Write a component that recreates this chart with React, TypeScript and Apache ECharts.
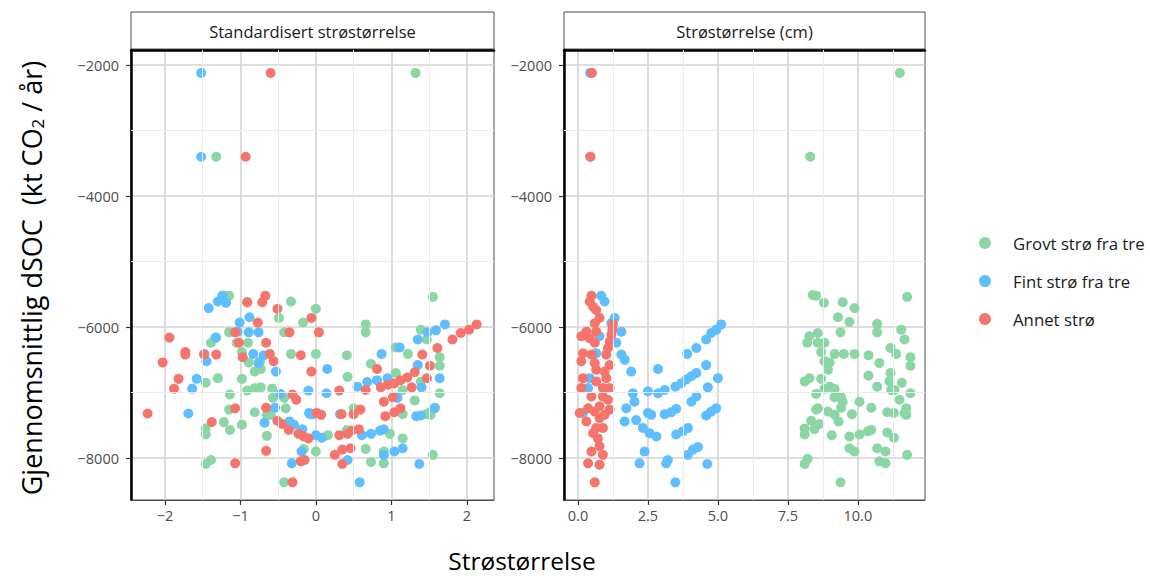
import React, { useEffect, useRef } from "react";
import * as echarts from "echarts";

const FONT = "'Open Sans', 'Noto Sans', sans-serif";

const SERIES_NAMES = ["Grovt strø fra tre", "Fint strø fra tre", "Annet strø"];
const COLORS = ["#8AD6A4", "#5EBEFF", "#F5756C"];
const STRIP_LABELS = ["Standardisert strøstørrelse", "Strøstørrelse (cm)"];

const xTicksStd = [-2, -1, 0, 1, 2];
const xTicksCm = [0, 2.5, 5, 7.5, 10];
const yTicks = [-8000, -6000, -4000, -2000];
const xMinorStd = [-1.5, -0.5, 0.5, 1.5];
const xMinorCm = [1.25, 3.75, 6.25, 8.75, 11.25];
const yMinor = [-7000, -5000, -3000];

// Standardised litter size panel
const stdGreen = [
  [1.32, -2120], [-1.32, -3400],
  [-1.22, -5520], [-1.15, -5520], [-0.91, -5620], [-0.49, -5860], [-0.33, -5610], [0.0, -5720],
  [-0.17, -5930], [-0.42, -6080], [0.66, -5960], [0.66, -6080], [1.55, -5540], [1.39, -6040],
  [1.47, -6190], [-1.32, -6160], [-1.39, -6240], [-1.15, -6080], [-1.05, -6240], [-0.9, -6240],
  [-0.98, -6380], [-0.89, -6540], [-0.74, -6520], [-0.73, -6640], [-0.81, -6680], [-0.33, -6410],
  [0.0, -6410], [0.41, -6430], [0.73, -6560], [1.06, -6310], [1.22, -6410], [1.64, -6460],
  [1.64, -6590], [-1.3, -6780], [-1.46, -6850], [-0.98, -6790], [0.42, -6760], [-0.91, -6970],
  [-0.81, -6930], [-0.73, -6920], [-0.58, -6940], [-0.57, -7080], [-1.14, -7030], [-1.15, -7260],
  [-0.42, -7080], [-0.4, -7240], [-0.65, -7340], [-0.6, -7340], [-0.81, -7300], [1.06, -6700],
  [1.15, -6960], [1.39, -6830], [1.64, -7010], [1.31, -7120], [0.5, -7240], [1.46, -7330],
  [1.51, -7300], [1.58, -7230], [1.52, -7340], [1.15, -7330], [-0.08, -7330], [-1.22, -7450],
  [-1.14, -7570], [-0.98, -7490], [-1.46, -7550], [-1.46, -7640], [-0.65, -7660], [0.16, -7650],
  [0.41, -7570], [0.98, -7630], [1.15, -7700], [-1.46, -8090], [-1.39, -8030], [-0.16, -7860],
  [0.0, -7900], [0.66, -7860], [0.9, -7900], [0.73, -8060], [0.9, -8080], [1.55, -7950],
  [-0.42, -8370],
];
const stdBlue = [
  [-1.52, -2120], [-1.52, -3400],
  [-1.42, -5710], [-1.3, -5610], [-1.24, -5520], [-1.19, -5630], [-1.01, -5930], [-0.88, -5850],
  [-0.89, -6080], [-0.76, -6080], [-1.04, -6070], [-1.33, -6160], [-1.48, -6410], [-1.45, -6520],
  [-0.83, -6410], [-0.69, -6430], [-0.76, -6550], [-1.58, -6790], [-1.64, -6940], [-1.69, -7320],
  [-0.53, -6680], [0.15, -6640], [0.87, -6410], [1.11, -6310], [1.35, -6190], [1.48, -6080],
  [1.59, -6050], [1.71, -5960], [1.35, -6580], [1.64, -6780], [1.4, -6920], [1.08, -7080],
  [-0.1, -6970], [0.14, -7010], [-0.47, -7020], [0.55, -6910], [0.68, -6840], [0.81, -6810],
  [0.95, -6780], [-0.54, -7230], [-0.68, -7460], [-0.35, -7440], [-0.29, -7490], [-0.18, -7560],
  [-0.09, -7310], [-0.04, -7330], [0.32, -7330], [0.0, -7650], [0.08, -7690], [0.61, -7650],
  [0.73, -7630], [0.85, -7580], [0.9, -7560], [-0.19, -7900], [-0.32, -8080], [0.42, -8030],
  [1.04, -7900], [1.15, -7850], [0.9, -7950], [1.37, -8090], [0.58, -8370], [1.33, -7360],
  [1.39, -7350], [1.57, -7240],
];
const stdRed = [
  [-0.6, -2120], [-0.93, -3400],
  [-2.23, -7320], [-2.03, -6540], [-1.94, -6160], [-1.82, -6790], [-1.88, -6940], [-1.73, -6380],
  [-1.73, -6420], [-1.48, -6420], [-1.32, -6420], [-1.38, -7450], [-1.07, -8080], [-0.91, -5620],
  [-0.71, -5620], [-0.67, -5520], [-0.51, -5720], [-0.77, -5930], [-1.07, -6080], [-1.02, -6240],
  [-0.97, -6460], [-0.66, -6240], [-0.61, -6410], [-0.56, -6520], [-0.35, -6080], [-0.06, -5860],
  [0.04, -6080], [-0.2, -6430], [-0.06, -6680], [-1.07, -7240], [-0.66, -7230], [-0.66, -7890],
  [-0.51, -7430], [-0.45, -7480], [-0.36, -7570], [-0.31, -7030], [-0.26, -7110], [-0.23, -7630],
  [-0.16, -7670], [-0.1, -7700], [-0.2, -8050], [-0.15, -8030], [-0.31, -8370], [0.01, -7310],
  [0.07, -7340], [0.31, -6970], [0.34, -7330], [0.25, -7950], [0.35, -8090], [0.31, -7650],
  [0.42, -7630], [0.48, -7580], [0.57, -7560], [0.35, -7870], [0.46, -7850], [0.5, -7330],
  [0.59, -7260], [0.66, -6960], [0.86, -6920], [0.95, -6880], [1.04, -6860], [1.12, -6810],
  [1.21, -6770], [1.31, -6690], [0.81, -6640], [0.9, -7140], [1.02, -7070], [0.92, -7360],
  [1.04, -7300], [1.12, -7240], [1.27, -6920], [1.47, -6780], [1.51, -6590], [1.41, -6420],
  [1.61, -6320], [1.81, -6190], [1.92, -6090], [2.03, -6040], [2.13, -5960],
];

// Litter size in cm panel
const cmGreen = [
  [11.5, -2120], [8.3, -3400],
  [8.39, -5510], [8.51, -5520], [8.79, -5630], [9.46, -5620], [9.88, -5710], [9.29, -5850],
  [9.7, -5920], [11.76, -5540], [9.38, -6080], [10.69, -5950], [10.69, -6080], [11.55, -6040],
  [11.67, -6190], [8.27, -6140], [8.57, -6090], [8.19, -6240], [8.57, -6240], [8.81, -6240],
  [8.69, -6380], [9.17, -6410], [9.5, -6410], [9.88, -6410], [10.38, -6430], [10.77, -6550],
  [11.17, -6320], [11.37, -6410], [11.88, -6460], [11.88, -6590], [8.81, -6520], [8.99, -6540],
  [8.93, -6650], [8.69, -6790], [8.1, -6830], [8.27, -6780], [10.38, -6740], [10.69, -6910],
  [11.17, -6700], [11.13, -6830], [11.19, -6960], [11.31, -6960], [11.57, -6850], [11.88, -7010],
  [8.51, -7020], [8.81, -6940], [8.99, -6910], [9.17, -6940], [9.17, -7070], [9.4, -7070],
  [9.46, -7140], [9.4, -7230], [10.06, -7140], [10.48, -7230], [9.79, -7330], [8.57, -7240],
  [8.51, -7260], [8.93, -7290], [9.17, -7340], [9.31, -7440], [11.49, -7110], [11.73, -7240],
  [11.73, -7340], [11.67, -7310], [11.05, -7300], [11.29, -7310], [8.33, -7430], [8.63, -7480],
  [8.45, -7560], [8.1, -7550], [8.1, -7640], [9.07, -7650], [9.7, -7670], [10.06, -7640],
  [10.36, -7590], [10.48, -7570], [11.05, -7610], [11.29, -7690], [9.7, -7850], [9.88, -7900],
  [10.69, -7850], [10.99, -7900], [10.77, -8050], [10.99, -8080], [11.76, -7950], [8.1, -8090],
  [8.21, -8010], [9.38, -8370],
];
const cmBlue = [
  [0.43, -2120], [0.43, -3400],
  [0.83, -5520], [0.95, -5610], [1.31, -5860], [1.19, -5940], [1.55, -6070], [1.37, -6240],
  [1.55, -6420], [1.67, -6500], [1.9, -6680], [2.86, -6640], [0.42, -6780], [0.36, -6930],
  [1.96, -7010], [2.5, -6980], [2.86, -7010], [2.02, -7140], [1.73, -7240], [1.67, -7440],
  [2.08, -7420], [2.32, -7540], [2.5, -7310], [2.62, -7340], [2.56, -7620], [2.8, -7670],
  [2.38, -7900], [2.2, -8080], [0.18, -7310], [0.77, -6140], [0.65, -6400],
  [5.12, -5960], [4.94, -6040], [4.76, -6090], [4.58, -6190], [4.23, -6320], [3.9, -6410],
  [4.58, -6580], [5.0, -6780], [4.64, -6920], [4.23, -6700], [4.05, -6750], [3.87, -6800],
  [3.69, -6860], [3.48, -6910], [3.1, -6960], [4.23, -7060], [4.05, -7140], [4.94, -7240],
  [4.76, -7290], [4.58, -7350], [3.51, -7250], [3.33, -7300], [3.1, -7330], [3.93, -7540],
  [3.75, -7590], [3.51, -7640], [4.29, -7830], [4.11, -7870], [3.93, -7950], [3.21, -8030],
  [3.15, -8080], [4.62, -8090], [3.48, -8370],
];
const cmRed = [
  [0.5, -2120], [0.45, -3400],
  [0.48, -5520], [0.42, -5610], [0.54, -5690], [0.65, -5740], [0.77, -5860], [0.6, -5940],
  [1.25, -5960], [1.23, -6040], [0.3, -6070], [0.65, -6070], [0.12, -6140], [0.42, -6170],
  [0.6, -6240], [1.19, -6120], [1.13, -6220], [1.07, -6320], [1.01, -6420], [0.18, -6400],
  [0.48, -6420], [0.12, -6520], [0.6, -6550], [1.13, -6580], [0.95, -6680], [0.65, -6650],
  [0.18, -6780], [1.01, -6780], [0.65, -6830], [0.12, -6930], [0.89, -6930], [1.13, -6930],
  [0.48, -7060], [0.89, -7060], [1.07, -7110], [0.36, -7240], [0.77, -7210], [1.13, -7260],
  [0.06, -7310], [0.6, -7290], [0.95, -7340], [0.3, -7440], [0.77, -7390], [0.65, -7540],
  [0.89, -7540], [0.54, -7620], [0.71, -7700], [0.77, -7820], [0.48, -7900], [0.89, -7950],
  [0.36, -8080], [0.77, -8100], [0.6, -8370],
];

const stdSets = [stdGreen, stdBlue, stdRed];
const cmSets = [cmGreen, cmBlue, cmRed];

const GRIDS = [
  { left: 131, top: 50, width: 363, height: 450 },
  { left: 564, top: 50, width: 361, height: 450 },
];

const minus = (s: string) => s.replace("-", "\u2212");

function xAxisCfg(gridIndex: number, min: number, max: number, interval: number, ticks: number[], fmt: (v: number) => string) {
  return {
    type: "value",
    gridIndex,
    min,
    max,
    interval,
    position: "bottom",
    axisLine: { show: true, onZero: false, lineStyle: { color: "#4d4d4d", width: 1 } },
    axisTick: { show: true, length: 5, customValues: ticks, lineStyle: { color: "#333", width: 1.2 } },
    axisLabel: {
      customValues: ticks,
      color: "#4d4d4d",
      fontSize: 14.5,
      fontFamily: FONT,
      margin: 8,
      formatter: (v: number) => (ticks.some((t) => Math.abs(t - v) < 1e-6) ? fmt(v) : ""),
    },
    splitLine: { show: true, lineStyle: { color: "#d3d3d3", width: 1.6 } },
  };
}

function topAxisCfg(gridIndex: number, min: number, max: number) {
  return {
    type: "value",
    gridIndex,
    min,
    max,
    position: "top",
    axisLine: { show: true, onZero: false, lineStyle: { color: "#000", width: 2.5 } },
    axisTick: { show: false },
    axisLabel: { show: false },
    splitLine: { show: false },
  };
}

function yAxisCfg(gridIndex: number) {
  return {
    type: "value",
    gridIndex,
    min: -8640,
    max: -1770,
    interval: 2000,
    axisLine: { show: true, onZero: false, lineStyle: { color: "#000", width: 2.5 } },
    axisTick: { show: true, length: 5, customValues: yTicks, lineStyle: { color: "#333", width: 1.2 } },
    axisLabel: {
      customValues: yTicks,
      color: "#4d4d4d",
      fontSize: 14.5,
      fontFamily: FONT,
      margin: 12,
      formatter: (v: number) => (yTicks.includes(v) ? minus(String(v)) : ""),
    },
    splitLine: { show: true, lineStyle: { color: "#d3d3d3", width: 1.6 } },
  };
}

function minorSeries(xAxisIndex: number, yAxisIndex: number, xs: number[]) {
  return {
    type: "scatter",
    xAxisIndex,
    yAxisIndex,
    data: [],
    silent: true,
    z: 1,
    markLine: {
      silent: true,
      symbol: "none",
      animation: false,
      label: { show: false },
      lineStyle: { color: "#ececec", width: 1, type: "solid" },
      emphasis: { disabled: true },
      data: [...xs.map((x) => ({ xAxis: x })), ...yMinor.map((y) => ({ yAxis: y }))],
    },
  };
}

export default function App() {
  const ref = useRef<HTMLDivElement>(null);
  useEffect(() => {
    if (!ref.current) return;
    const chart = echarts.init(ref.current, undefined, { renderer: "svg" });
    const pointSeries: any[] = [];
    [stdSets, cmSets].forEach((sets, p) => {
      sets.forEach((data, i) => {
        pointSeries.push({
          type: "scatter",
          name: SERIES_NAMES[i],
          xAxisIndex: p,
          yAxisIndex: p,
          data,
          symbolSize: 10,
          itemStyle: { color: COLORS[i], opacity: 1 },
          emphasis: { disabled: true },
          z: 3,
        });
      });
    });

    const graphics: any[] = [];
    GRIDS.forEach((g, i) => {
      graphics.push({
        type: "rect",
        shape: { x: g.left, y: 12, width: g.width, height: 37 },
        style: { fill: "#fff", stroke: "#4d4d4d", lineWidth: 1 },
        silent: true,
      });
      graphics.push({
        type: "text",
        x: g.left + g.width / 2,
        y: 31,
        style: {
          text: STRIP_LABELS[i],
          fill: "#1a1a1a",
          fontSize: 16.5,
          fontFamily: FONT,
          align: "center",
          verticalAlign: "middle",
        },
        silent: true,
      });
    });
    graphics.push({
      type: "text",
      x: 31,
      y: 278,
      rotation: Math.PI / 2,
      style: {
        text: "Gjennomsnittlig dSOC  (kt CO{sub|2} / år)",
        rich: { sub: { fontSize: 17, fontFamily: FONT, fill: "#000", padding: [13, 0, 0, 0] } },
        fill: "#000",
        fontSize: 27,
        fontFamily: FONT,
        align: "center",
        verticalAlign: "middle",
      },
      silent: true,
    });
    graphics.push({
      type: "text",
      x: 522,
      y: 560,
      style: {
        text: "Strøstørrelse",
        fill: "#000",
        fontSize: 24.5,
        fontFamily: FONT,
        align: "center",
        verticalAlign: "middle",
      },
      silent: true,
    });

    chart.setOption({
      animation: false,
      backgroundColor: "#fff",
      grid: GRIDS.map((g) => ({ ...g, show: true, borderColor: "#4d4d4d", borderWidth: 1, backgroundColor: "#fff" })),
      xAxis: [
        xAxisCfg(0, -2.45, 2.36, 1, xTicksStd, (v) => minus(String(v))),
        xAxisCfg(1, -0.5, 12.4, 2.5, xTicksCm, (v) => v.toFixed(1)),
        topAxisCfg(0, -2.45, 2.36),
        topAxisCfg(1, -0.5, 12.4),
      ],
      yAxis: [yAxisCfg(0), yAxisCfg(1)],
      legend: {
        orient: "vertical",
        left: 974,
        top: 228,
        icon: "circle",
        itemWidth: 12,
        itemHeight: 12,
        itemGap: 18,
        data: SERIES_NAMES,
        selectedMode: false,
        textStyle: { fontSize: 16.8, color: "#1a1a1a", fontFamily: FONT, lineHeight: 20, padding: [0, 0, 0, 17] },
      },
      series: [minorSeries(0, 0, xMinorStd), minorSeries(1, 1, xMinorCm), ...pointSeries],
      graphic: graphics,
    });
    return () => chart.dispose();
  }, []);
  return <div ref={ref} style={{ position: "fixed", left: 0, top: 0, width: 1150, height: 576 }} />;
}
